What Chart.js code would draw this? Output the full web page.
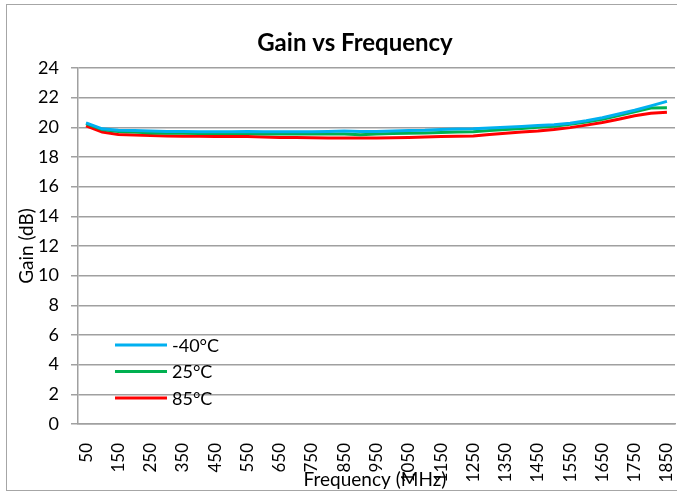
<!DOCTYPE html>
<html>
<head>
<meta charset="utf-8">
<title>Gain vs Frequency</title>
<script src="https://cdn.jsdelivr.net/npm/chart.js@4/dist/chart.umd.min.js"></script>
<style>
  html, body { margin: 0; padding: 0; background: #fff; }
  #wrap { width: 677px; height: 493px; }
</style>
</head>
<body>
<div id="wrap"><canvas id="gainChart" width="677" height="493"></canvas></div>
<script>
// frequency points in MHz (every 50, labelled every 100)
const frequencies = [50, 100, 150, 200, 250, 300, 350, 400, 450, 500, 550, 600, 650, 700, 750, 800, 850, 900, 950,
  1000, 1050, 1100, 1150, 1200, 1250, 1300, 1350, 1400, 1450, 1500, 1550, 1600, 1650, 1700, 1750, 1800, 1850];

const gainMinus40 = [20.3, 19.9, 19.8, 19.78, 19.75, 19.72, 19.72, 19.7, 19.7, 19.7, 19.72, 19.7, 19.7, 19.7, 19.7, 19.72, 19.75, 19.72, 19.72,
  19.75, 19.78, 19.8, 19.85, 19.88, 19.9, 19.95, 20.0, 20.05, 20.12, 20.18, 20.28, 20.45, 20.65, 20.9, 21.15, 21.45, 21.75];
const gain25 = [20.25, 19.85, 19.72, 19.68, 19.62, 19.6, 19.6, 19.58, 19.58, 19.58, 19.58, 19.55, 19.55, 19.55, 19.55, 19.55, 19.55, 19.5, 19.55,
  19.58, 19.6, 19.62, 19.65, 19.68, 19.7, 19.78, 19.85, 19.92, 20.0, 20.08, 20.2, 20.35, 20.55, 20.8, 21.05, 21.3, 21.32];
const gain85 = [20.1, 19.68, 19.52, 19.48, 19.45, 19.42, 19.4, 19.4, 19.38, 19.38, 19.38, 19.35, 19.32, 19.32, 19.3, 19.28, 19.28, 19.28, 19.28,
  19.3, 19.32, 19.35, 19.38, 19.4, 19.42, 19.52, 19.6, 19.68, 19.75, 19.85, 19.98, 20.15, 20.32, 20.55, 20.78, 20.95, 21.02];

const seriesNames = ['-40°C', '25°C', '85°C'];
const seriesColors = ['#00B0F0', '#00B050', '#FF0000'];

const FONT = 'Lato, Calibri, "Open Sans", sans-serif';

// outer border, titles and the legend sitting inside the plot (Excel style)
const excelBits = {
  id: 'excelBits',
  afterDraw(chart) {
    const ctx = chart.ctx;
    ctx.save();
    ctx.strokeStyle = '#A6A6A6';
    ctx.lineWidth = 1;
    ctx.strokeRect(6.5, 4.5, 690, 486);

    ctx.fillStyle = '#000';
    ctx.textAlign = 'center';
    ctx.textBaseline = 'middle';
    // the chart object is wider than the picture, so its title sits right of centre
    ctx.font = 'bold 24px ' + FONT;
    ctx.fillText('Gain vs Frequency', 355, 43);

    ctx.font = '19px ' + FONT;
    ctx.fillText('Frequency (MHz)', 375, 480);

    ctx.save();
    ctx.translate(27, 246);
    ctx.rotate(-Math.PI / 2);
    ctx.fillText('Gain (dB)', 0, 0);
    ctx.restore();

    // legend
    ctx.font = '18px ' + FONT;
    ctx.textAlign = 'left';
    chart.data.datasets.forEach((ds, i) => {
      const y = 345 + i * 26.5;
      ctx.strokeStyle = ds.borderColor;
      ctx.lineWidth = 3;
      ctx.beginPath();
      ctx.moveTo(115, y);
      ctx.lineTo(167, y);
      ctx.stroke();
      ctx.fillText(ds.label, 172, y + 1);
    });
    ctx.restore();
  }
};

const gainSeries = [gainMinus40, gain25, gain85];

new Chart(document.getElementById('gainChart'), {
  type: 'line',
  data: {
    labels: frequencies,
    datasets: gainSeries.map((values, i) => ({
      label: seriesNames[i],
      data: values,
      borderColor: seriesColors[i],
      backgroundColor: seriesColors[i],
      borderWidth: 3,
      pointRadius: 0,
      tension: 0
    }))
  },
  options: {
    responsive: false,
    animation: false,
    layout: { padding: { left: 0, right: 2, top: 68, bottom: 0 } },
    plugins: {
      legend: { display: false },
      tooltip: { enabled: false },
      title: { display: false }
    },
    scales: {
      x: {
        type: 'category',
        offset: true,
        grid: { display: false },
        border: { display: true, color: '#A0A0A0', width: 1.5 },
        ticks: {
          autoSkip: false,
          minRotation: 90,
          maxRotation: 90,
          padding: 11,
          color: '#000',
          font: { family: FONT, size: 17 },
          callback: function (value, index) {
            return index % 2 === 0 ? this.getLabelForValue(value) : '';
          }
        },
        afterFit(scale) {
          scale.height = 69;
          scale.paddingLeft = 0;
          scale.paddingRight = 0;
        }
      },
      y: {
        min: 0,
        max: 24,
        grid: { color: '#A0A0A0', lineWidth: 1.5, tickLength: 7 },
        border: { display: true, color: '#A0A0A0', width: 1.5 },
        ticks: {
          stepSize: 2,
          padding: 12,
          color: '#000',
          font: { family: FONT, size: 18 }
        },
        afterFit(scale) {
          scale.width = 78;
          scale.paddingTop = 0;
          scale.paddingBottom = 0;
        }
      }
    }
  },
  plugins: [excelBits]
});
</script>
</body>
</html>
